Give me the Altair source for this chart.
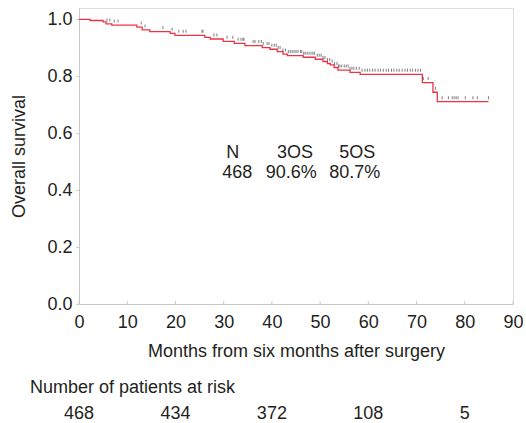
import altair as alt
import pandas as pd

# Kaplan-Meier step curve (months, survival)
km_time = [0, 2.3, 5.0, 5.6, 6.8, 12.0, 13.1, 14.7, 18.9, 19.9, 26.1, 27.2, 29.9, 32.2,
           34.4, 38.0, 39.6, 41.1, 42.3, 43.2, 46.5, 49.0, 50.6, 51.5, 52.1, 52.9, 53.7,
           56.2, 58.3, 71.2, 73.4, 74.3, 84.9]
km_surv = [1.0, 0.996, 0.991, 0.984, 0.980, 0.973, 0.963, 0.957, 0.951, 0.944, 0.937, 0.931,
           0.923, 0.916, 0.908, 0.901, 0.895, 0.887, 0.878, 0.873, 0.867, 0.860, 0.852, 0.845,
           0.840, 0.831, 0.822, 0.814, 0.807, 0.778, 0.744, 0.711, 0.711]

# censoring times (months)
censor_time = [5.8, 6.4, 7.3, 8.1, 12.9, 13.7, 17.4, 19.3, 20.7, 21.6, 22.2, 25.5, 25.7,
               28.0, 28.6, 30.7, 31.9, 33.0, 33.6, 34.0, 34.2, 36.1, 36.5, 37.3, 37.8, 38.2,
               39.0, 39.4, 40.0, 40.5, 40.9, 41.3, 41.7, 42.3, 42.8, 43.4, 43.8, 44.2, 44.6,
               45.0, 45.4, 45.9, 46.2, 46.6, 46.9, 47.3, 47.7, 48.1, 48.5, 48.8, 49.4, 49.8,
               50.2, 50.6, 51.0, 51.5, 52.0, 52.5, 53.0, 53.5, 53.8, 54.1, 54.5, 55.0, 55.4,
               55.8, 56.2, 56.6, 57.0, 57.5, 58.1, 58.7, 59.3, 59.8, 60.3, 60.9, 61.4, 62.0,
               62.5, 63.1, 63.7, 64.2, 64.8, 65.3, 65.9, 66.4, 67.0, 67.6, 68.1, 68.7, 69.2,
               69.8, 70.3, 70.8, 71.4, 72.4, 73.9, 75.3, 76.6, 77.4, 77.8, 78.2, 78.6, 80.1,
               81.7, 82.6, 84.9]

# annotation table
ann_text = ["N", "3OS", "5OS", "468", "90.6%", "80.7%"]
ann_x = [31.9, 44.8, 57.7, 32.8, 44.0, 57.2]
ann_y = [0.531, 0.531, 0.531, 0.460, 0.460, 0.460]

# number at risk
risk_time = [0, 20, 40, 60, 80]
risk_n = ["468", "434", "372", "108", "5"]

x_ticks = [0, 10, 20, 30, 40, 50, 60, 70, 80, 90]
y_ticks = [0, 0.1, 0.2, 0.3, 0.4, 0.5, 0.6, 0.7, 0.8, 0.9, 1.0]

FONT = "Liberation Sans"
TXT = "#231f20"
AX = "#c8c8c8"
FS = 18


def surv_at(t):
    s = km_surv[0]
    for kt, ks in zip(km_time, km_surv):
        if kt <= t:
            s = ks
    return s


km_df = pd.DataFrame({"t": km_time, "s": km_surv})
cen_df = pd.DataFrame({"t": censor_time, "s": [surv_at(t) for t in censor_time]})
ann_df = pd.DataFrame({"label": ann_text, "t": ann_x, "s": ann_y})
risk_df = pd.DataFrame({"t": risk_time, "n": risk_n})
xt_df = pd.DataFrame({"t": x_ticks})

xscale = alt.Scale(domain=[0, 90], nice=False)
yscale = alt.Scale(domain=[0, 1.04], nice=False)

line = alt.Chart(km_df).mark_line(interpolate="step-after", color="#ee3345", strokeWidth=1.3).encode(
    x=alt.X("t:Q", scale=xscale,
            axis=alt.Axis(values=x_ticks, title="Months from six months after surgery",
                          ticks=False, labelPadding=9, titlePadding=11, grid=False,
                          domainColor=AX, labelColor=TXT, titleColor=TXT,
                          labelFont=FONT, titleFont=FONT, labelFontSize=FS, titleFontSize=FS,
                          titleFontWeight="normal", labelFlush=False)),
    y=alt.Y("s:Q", scale=yscale,
            axis=alt.Axis(values=y_ticks, title="Overall survival",
                          labelExpr="round(datum.value*10) % 2 == 0 ? format(datum.value, '.1f') : ''",
                          tickSize=3, tickColor=AX, labelPadding=4, titlePadding=18, grid=False,
                          domainColor=AX, labelColor=TXT, titleColor=TXT,
                          labelFont=FONT, titleFont=FONT, labelFontSize=FS, titleFontSize=FS,
                          titleFontWeight="normal", labelFlush=False)),
)

xticks = alt.Chart(xt_df).mark_rule(color=AX, strokeWidth=1).encode(
    x=alt.X("t:Q", scale=xscale),
    y=alt.value(296),
    y2=alt.value(293),
)

censor = alt.Chart(cen_df).mark_tick(orient="vertical", size=3, thickness=0.9, color="#333333",
                                     yOffset=-4).encode(
    x=alt.X("t:Q", scale=xscale),
    y=alt.Y("s:Q", scale=yscale),
)

ann = alt.Chart(ann_df).mark_text(font=FONT, fontSize=FS, color=TXT, align="center",
                                  baseline="middle").encode(
    x=alt.X("t:Q", scale=xscale),
    y=alt.Y("s:Q", scale=yscale),
    text="label:N",
)

risk = alt.Chart(risk_df).mark_text(font=FONT, fontSize=FS, color=TXT, align="center",
                                    baseline="middle", dx=0).encode(
    x=alt.X("t:Q", scale=xscale),
    y=alt.value(406),
    text="n:N",
)

risk_title = alt.Chart(pd.DataFrame({"label": ["Number of patients at risk"]})).mark_text(
    font=FONT, fontSize=FS, color=TXT, align="left", baseline="middle").encode(
    x=alt.value(-49),
    y=alt.value(380),
    text="label:N",
)

chart = alt.layer(xticks, line, censor, ann, risk, risk_title).properties(
    width=434, height=296,
    autosize=alt.AutoSizeParams(type="none"),
    padding={"left": 79, "top": 8, "right": 13, "bottom": 119},
).configure_view(stroke=None).configure(background="white")

chart.save("out.html", embed_options={"renderer": "svg", "actions": False})
